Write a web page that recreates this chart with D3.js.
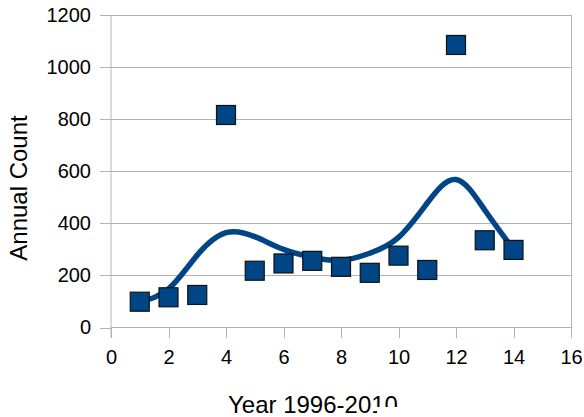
<!DOCTYPE html>
<html>
<head>
<meta charset="utf-8">
<script src="https://cdn.jsdelivr.net/npm/d3@7"></script>
<style>
  html, body { margin: 0; padding: 0; background: #fff; }
  svg { display: block; font-family: "Liberation Sans", Arial, sans-serif; }
</style>
</head>
<body>
<svg id="chart" width="584" height="417"></svg>
<script>
// ---- data ----
const years = [1, 2, 3, 4, 5, 6, 7, 8, 9, 10, 11, 12, 13, 14];
const counts = [99, 116, 125, 816, 218, 246, 256, 233, 210, 276, 221, 1085, 335, 298];
const trendX = [1, 2, 3, 4, 5, 6, 7, 8, 9, 10, 11, 12, 13, 14];
const trendY = [100, 148, 278, 364, 349, 300, 270, 258, 285, 346, 478, 568, 451, 300];
const xTicks = [0, 2, 4, 6, 8, 10, 12, 14, 16];
const yTicks = [0, 200, 400, 600, 800, 1000, 1200];
const xTitle = "Year 1996-2010";
const yTitle = "Annual Count";

// ---- layout ----
const svg = d3.select("#chart");
const mLeft = 111, mRight = 571, mTop = 15, mBottom = 327.5;
const x = d3.scaleLinear().domain([0, 16]).range([mLeft, mRight]);
const y = d3.scaleLinear().domain([0, 1200]).range([mBottom, mTop]);
const gridColor = "#b3b3b3";
const blue = "#004586";

// gridlines
svg.append("g").selectAll("line").data(yTicks).join("line")
  .attr("x1", mLeft).attr("x2", mRight)
  .attr("y1", d => y(d)).attr("y2", d => y(d))
  .attr("stroke", gridColor).attr("stroke-width", 1).attr("shape-rendering", "crispEdges");

// right border
svg.append("line").attr("x1", mRight).attr("x2", mRight).attr("y1", mTop).attr("y2", mBottom)
  .attr("stroke", gridColor).attr("shape-rendering", "crispEdges");

// axes
const xAxis = d3.axisBottom(x).tickValues(xTicks).tickSize(10).tickPadding(12).tickFormat(d3.format("d"));
const gx = svg.append("g").attr("transform", `translate(0,${mBottom})`).call(xAxis);
const yAxis = d3.axisLeft(y).tickValues(yTicks).tickSize(11).tickPadding(9).tickFormat(d3.format("d"));
const gy = svg.append("g").attr("transform", `translate(${mLeft},0)`).call(yAxis);
[gx, gy].forEach(g => {
  g.select(".domain").attr("stroke", gridColor);
  g.selectAll(".tick line").attr("stroke", gridColor).attr("shape-rendering", "crispEdges");
  g.selectAll(".tick text").attr("fill", "#000").style("font-size", "20px")
    .style("font-family", "'Liberation Sans', Arial, sans-serif");
});
gx.select(".domain").attr("d", `M${mLeft},0H${mRight}`);
gy.select(".domain").attr("d", `M0,${mTop}V${mBottom + 10}`);

// trend line
const line = d3.line().x((d, i) => x(trendX[i])).y(d => y(d)).curve(d3.curveNatural);
svg.append("path").datum(trendY).attr("d", line)
  .attr("fill", "none").attr("stroke", blue).attr("stroke-width", 5.5)
  .attr("stroke-linecap", "round");

// markers
const s = 19;
svg.append("g").selectAll("rect").data(years).join("rect")
  .attr("x", (d) => x(d) - s / 2)
  .attr("y", (d, i) => y(counts[i]) - s / 2)
  .attr("width", s).attr("height", s)
  .attr("fill", blue).attr("stroke", "#111").attr("stroke-width", 1.2);

// titles
const defs = svg.append("defs");
defs.append("clipPath").attr("id", "xtclip").append("path")
  .attr("d", "M0,370H377V417H0Z M377,370H584V407H377Z");
svg.append("text").attr("x", 228).attr("y", 413)
  .attr("clip-path", "url(#xtclip)")
  .style("font-size", "24px").attr("fill", "#000").text(xTitle);

svg.append("text")
  .attr("transform", "translate(27,188) rotate(-90)")
  .attr("text-anchor", "middle")
  .style("font-size", "24px").attr("fill", "#000").text(yTitle);
</script>
</body>
</html>
